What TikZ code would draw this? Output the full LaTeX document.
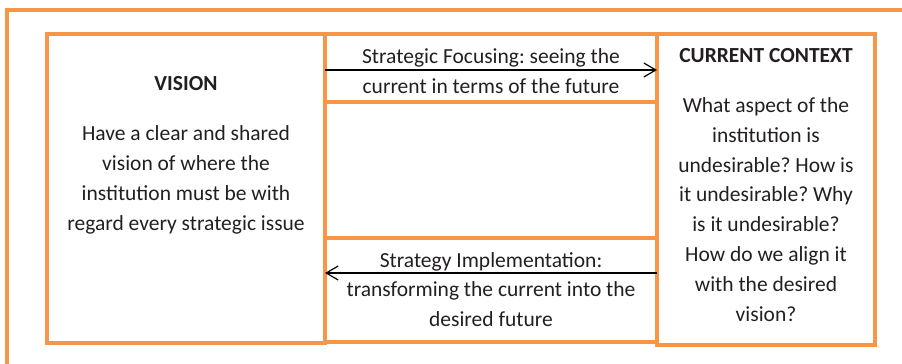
\documentclass[tikz,border=0pt]{standalone}
\usepackage{fontspec}
\setmainfont{Carlito}
\usetikzlibrary{arrows.meta}
\definecolor{boxorange}{HTML}{F79646}
\definecolor{inktext}{HTML}{231F20}
\frenchspacing

\begin{document}
\begin{tikzpicture}[x=1pt, y=-1pt,
    box/.style={draw=boxorange, line width=3.2pt, anchor=north west, inner sep=0pt, outer sep=0pt},
    words/.style={text=inktext, align=center, anchor=base, inner sep=0pt, font=\fontsize{21.5}{29.8}\selectfont},
    link/.style={line width=1.2pt, -{Straight Barb[length=12pt, width=14pt]}}]
  \useasboundingbox (0,0) rectangle (902,364);
  \draw[boxorange, line width=3.2pt] (7,364) -- (7,10) -- (902,10);

  \node[box, minimum width=278pt, minimum height=309pt] (vision) at (47,34) {};
  \node[box, minimum width=332pt, minimum height=68pt] (focus) at (325,34) {};
  \node[box, minimum width=332pt, minimum height=136pt] (blank) at (325,102) {};
  \node[box, minimum width=332pt, minimum height=104pt] (impl) at (325,238) {};
  \node[box, minimum width=218pt, minimum height=311pt] (context) at (657,34) {};

  % base anchor sits on the last line
  \node[words] (visiontitle) at (186,90) {\textbf{VISION}};
  \node[words] (visionbody) at (186,230) {Have a clear and shared\\vision of where the\\institution must be with\\regard every strategic issue};
  \node[words] (focustext) at (491,93.3) {Strategic Focusing: seeing the\\current in terms of the future};
  \node[words] (impltext) at (491,326.7) {Strategy Implementation:\\transforming the current into the\\desired future};
  \node[words] (contexttitle) at (766,62.7) {\textbf{CURRENT CONTEXT}};
  \node[words] (contextbody) at (766,321) {What aspect of the\\institution is\\undesirable? How is\\it undesirable? Why\\is it undesirable?\\How do we align it\\with the desired\\vision?};

  \coordinate (focusline) at (491,70);
  \coordinate (implline) at (491,273);
  \draw[link] (focusline -| vision.east) -- (focusline -| context.west);
  \draw[link] (implline -| context.west) -- (implline -| vision.east);
\end{tikzpicture}
\end{document}
